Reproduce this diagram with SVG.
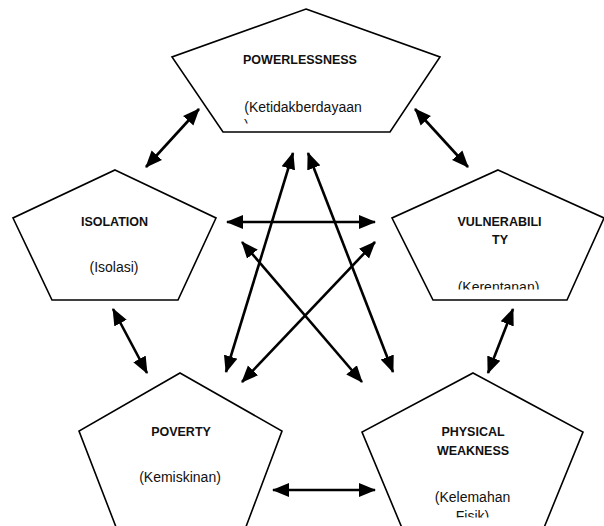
<svg xmlns="http://www.w3.org/2000/svg" width="604" height="526" viewBox="0 0 604 526">
<style>
.pent{fill:#fff;stroke:#000;stroke-width:1.6;stroke-linejoin:miter}
.t{font-family:"Liberation Sans",Arial,sans-serif;font-weight:bold;font-size:12.5px;fill:#111;text-anchor:middle}
.s{font-family:"Liberation Sans",Arial,sans-serif;font-size:14px;fill:#111;text-anchor:middle}
.c line{stroke:#000;stroke-width:2.6;marker-start:url(#ah);marker-end:url(#ah)}
</style>
<defs>
<marker id="ah" markerUnits="userSpaceOnUse" markerWidth="17" markerHeight="15" refX="16" refY="7" orient="auto-start-reverse" viewBox="0 0 17 14">
<path d="M0,0 L17,7 L0,14 z" fill="#000"/>
</marker>
<clipPath id="cp1"><rect x="0" y="0" width="604" height="123.5"/></clipPath>
<clipPath id="cp2"><rect x="0" y="0" width="604" height="289.5"/></clipPath>
<clipPath id="cp3"><rect x="0" y="0" width="604" height="517.5"/></clipPath>
</defs>
<rect width="604" height="526" fill="#fff"/>
<g id="powerlessness">
<polygon class="pent" points="306,9 440,57 390,132 223,132 172,57"/>
<text class="t" x="300" y="64">POWERLESSNESS</text>
<text class="s" x="303" y="112">(Ketidakberdayaan</text>
<text class="s" x="244" y="130" style="text-anchor:start" clip-path="url(#cp1)">)</text>
</g>
<g id="isolation">
<polygon class="pent" points="115,170 216,218 178,300 52,300 13,218"/>
<text class="t" x="114.5" y="226">ISOLATION</text>
<text class="s" x="114" y="272">(Isolasi)</text>
</g>
<g id="vulnerability">
<polygon class="pent" points="498,170 604,218 567,300 433,300 392,218"/>
<text class="t" x="499.5" y="226">VULNERABILI</text>
<text class="t" x="500" y="244">TY</text>
<text class="s" x="498.5" y="292" clip-path="url(#cp2)">(Kerentanan)</text>
</g>
<g id="poverty">
<polygon class="pent" points="180,373 282,431 241,540 121,540 79,431"/>
<text class="t" x="181" y="436">POVERTY</text>
<text class="s" x="180" y="482">(Kemiskinan)</text>
</g>
<g id="physical-weakness">
<polygon class="pent" points="473,373 583,432 539,540 407,540 362,432"/>
<text class="t" x="473" y="436">PHYSICAL</text>
<text class="t" x="473" y="455">WEAKNESS</text>
<text class="s" x="472.5" y="502">(Kelemahan</text>
<text class="s" x="472.5" y="521" clip-path="url(#cp3)">Fisik)</text>
</g>
<g id="connectors" class="c">
<line x1="146" y1="167" x2="199" y2="109"/>
<line x1="415" y1="109" x2="468" y2="167"/>
<line x1="113" y1="309" x2="147" y2="373"/>
<line x1="513" y1="309" x2="488" y2="373"/>
<line x1="273" y1="490" x2="375" y2="490"/>
<line x1="293" y1="153" x2="226" y2="372"/>
<line x1="308" y1="153" x2="393" y2="372"/>
<line x1="227" y1="222" x2="375" y2="222"/>
<line x1="242" y1="242" x2="362" y2="382"/>
<line x1="375" y1="242" x2="242" y2="382"/>
</g>
</svg>
